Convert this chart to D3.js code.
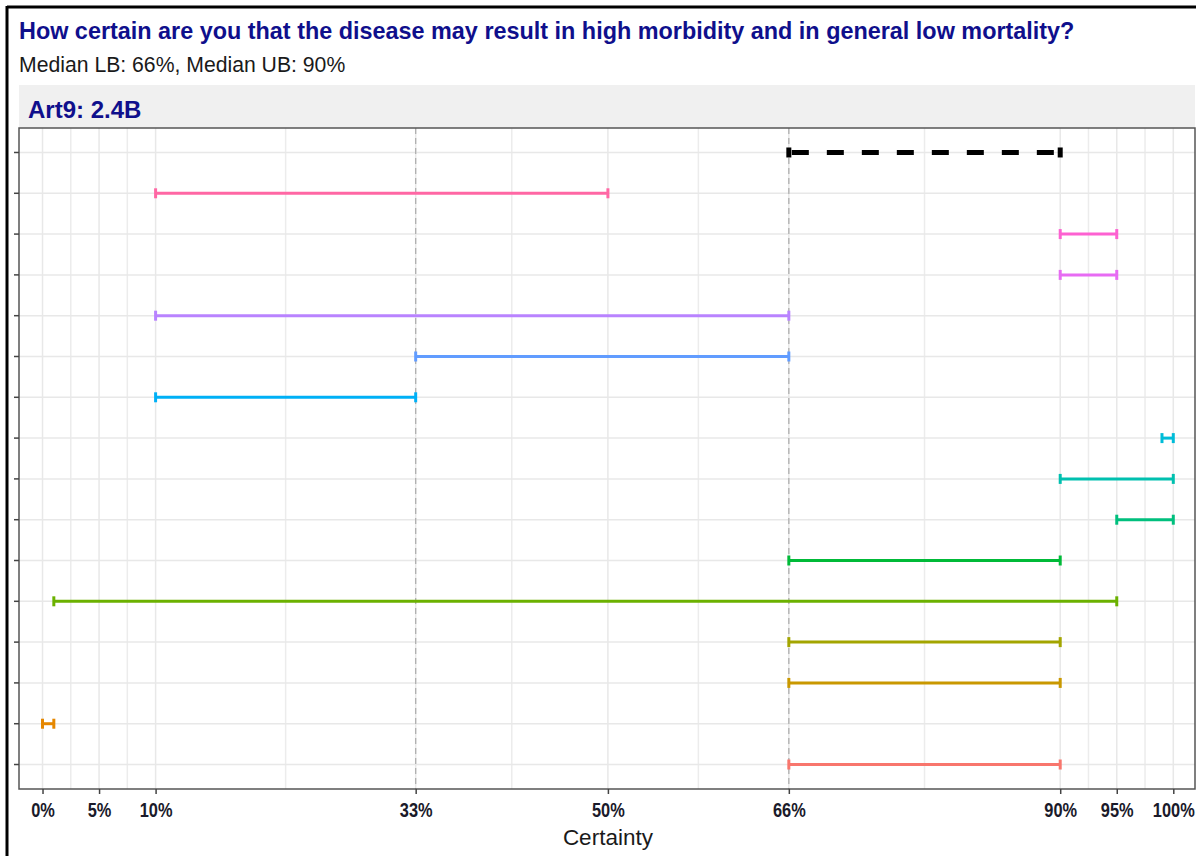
<!DOCTYPE html>
<html>
<head>
<meta charset="utf-8">
<script src="https://cdn.jsdelivr.net/npm/d3@7"></script>
<style>
  html, body { margin: 0; padding: 0; background: #fff; }
  svg { display: block; font-family: "Liberation Sans", Arial, sans-serif; }
</style>
</head>
<body>
<svg id="chart" width="1197" height="856"></svg>
<script>
// Respondents, top to bottom; the first row is the median interval
const respondents = ["Median", "R15", "R14", "R13", "R12", "R11", "R10", "R9",
                     "R8", "R7", "R6", "R5", "R4", "R3", "R2", "R1"];
const lowerBound = [66, 10, 90, 90, 10, 33, 10, 99, 90, 95, 66, 1, 66, 66, 0, 66];
const upperBound = [90, 50, 95, 95, 66, 66, 33, 100, 100, 100, 90, 95, 90, 90, 1, 90];
const rowColors = ["#000000", "#FF67A4", "#FD61D1", "#E76BF3", "#B983FF", "#619CFF",
                   "#00B0F6", "#00BCD8", "#00C0AF", "#00BF7D", "#00BA38", "#6BB100",
                   "#A3A500", "#C99800", "#E58700", "#F8766D"];
const xBreaks = [0, 5, 10, 33, 50, 66, 90, 95, 100];
const xMinor = [2.5, 7.5, 21.5, 41.5, 58, 78, 92.5, 97.5];
const medianLines = [33, 66];

const titleText = "How certain are you that the disease may result in high morbidity and in general low mortality?";
const subtitleText = "Median LB: 66%, Median UB: 90%";
const stripText = "Art9: 2.4B";
const xTitle = "Certainty";

const svg = d3.select("#chart");
const panel = { left: 19, right: 1195, top: 128, bottom: 789 };

const x = d3.scaleLinear().domain([-2.08, 101.92]).range([panel.left, panel.right]);
const y = d3.scalePoint().domain(respondents).range([panel.top, panel.bottom]).padding(0.6);

const rows = respondents.map((r, i) => ({ id: r, lo: lowerBound[i], hi: upperBound[i], color: rowColors[i], median: i === 0 }));

// screenshot frame
svg.append("line").attr("x1", 7).attr("x2", 1196).attr("y1", 7).attr("y2", 7)
  .attr("stroke", "#000").attr("stroke-width", 3);
svg.append("line").attr("x1", 7).attr("x2", 7).attr("y1", 6).attr("y2", 856)
  .attr("stroke", "#000").attr("stroke-width", 3);

// titles
svg.append("text").attr("x", 19).attr("y", 39).attr("fill", "#0f0f8c")
  .attr("font-size", 23.4).attr("font-weight", "bold").text(titleText);
svg.append("text").attr("x", 19).attr("y", 72).attr("fill", "#1a1a1a")
  .attr("font-size", 21.2).text(subtitleText);

// facet strip
svg.append("rect").attr("x", panel.left).attr("y", 85).attr("width", panel.right - panel.left)
  .attr("height", panel.top - 85).attr("fill", "#f0f0f0");
svg.append("text").attr("x", 28).attr("y", 118).attr("fill", "#0f0f8c")
  .attr("font-size", 24).attr("font-weight", "bold").text(stripText);

// panel background + grid
svg.append("rect").attr("x", panel.left).attr("y", panel.top)
  .attr("width", panel.right - panel.left).attr("height", panel.bottom - panel.top).attr("fill", "#fff");

const grid = svg.append("g");
grid.selectAll("line.minor").data(xMinor).join("line")
  .attr("x1", d => x(d)).attr("x2", d => x(d)).attr("y1", panel.top).attr("y2", panel.bottom)
  .attr("stroke", "#ececec").attr("stroke-width", 1.5);
grid.selectAll("line.major").data(xBreaks).join("line")
  .attr("x1", d => x(d)).attr("x2", d => x(d)).attr("y1", panel.top).attr("y2", panel.bottom)
  .attr("stroke", "#e8e8e8").attr("stroke-width", 1.5);
grid.selectAll("line.row").data(respondents).join("line")
  .attr("x1", panel.left).attr("x2", panel.right).attr("y1", d => y(d)).attr("y2", d => y(d))
  .attr("stroke", "#e8e8e8").attr("stroke-width", 1.5);

// reference lines at 33% and 66%
svg.append("g").selectAll("line").data(medianLines).join("line")
  .attr("x1", d => x(d)).attr("x2", d => x(d)).attr("y1", panel.top).attr("y2", panel.bottom)
  .attr("stroke", "#b0b0b0").attr("stroke-width", 1.3).attr("stroke-dasharray", "6,4");

// interval bars
const bars = svg.append("g").selectAll("g").data(rows).join("g");
bars.append("line")
  .attr("x1", d => x(d.lo)).attr("x2", d => x(d.hi))
  .attr("y1", d => y(d.id)).attr("y2", d => y(d.id))
  .attr("stroke", d => d.color)
  .attr("stroke-width", d => d.median ? 5 : 3)
  .attr("stroke-dasharray", d => d.median ? "17,18" : null)
  .attr("stroke-dashoffset", d => d.median ? -3 : 0);
bars.each(function(d) {
  const g = d3.select(this);
  const h = 5;
  [d.lo, d.hi].forEach(v => {
    g.append("line")
      .attr("x1", x(v)).attr("x2", x(v))
      .attr("y1", y(d.id) - h).attr("y2", y(d.id) + h)
      .attr("stroke", d.color).attr("stroke-width", d.median ? 5 : 3);
  });
});

// panel border
svg.append("rect").attr("x", panel.left).attr("y", panel.top)
  .attr("width", panel.right - panel.left).attr("height", panel.bottom - panel.top)
  .attr("fill", "none").attr("stroke", "#555").attr("stroke-width", 1.5);

// y ticks (labels are cut off at the frame)
svg.append("g").selectAll("line").data(respondents).join("line")
  .attr("x1", panel.left - 5).attr("x2", panel.left).attr("y1", d => y(d)).attr("y2", d => y(d))
  .attr("stroke", "#444").attr("stroke-width", 1.5);

// x axis
const xAxis = d3.axisBottom(x).tickValues(xBreaks).tickFormat(d => d + "%").tickSize(5).tickPadding(9);
const ax = svg.append("g").attr("transform", `translate(0,${panel.bottom})`).call(xAxis);
ax.select(".domain").remove();
ax.selectAll(".tick line").attr("stroke", "#444").attr("stroke-width", 1.5);
ax.selectAll(".tick text").attr("font-size", 20).attr("font-weight", "bold")
  .attr("transform", "scale(0.82,1)")
  .attr("fill", "#1a1a2a").attr("font-family", "Liberation Sans, Arial, sans-serif");

svg.append("text").attr("x", x(50)).attr("y", 845).attr("text-anchor", "middle")
  .attr("font-size", 22.5).attr("fill", "#1a1a1a").text(xTitle);
</script>
</body>
</html>
